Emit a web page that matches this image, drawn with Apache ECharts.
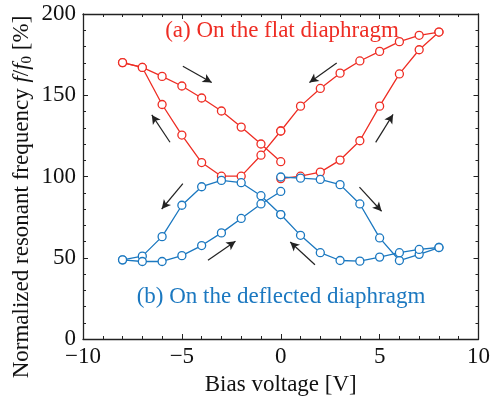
<!DOCTYPE html>
<html>
<head>
<meta charset="utf-8">
<script src="https://cdn.jsdelivr.net/npm/echarts@6/dist/echarts.min.js"></script>
<style>
  html, body { margin: 0; padding: 0; background: #fff; }
  #chart { width: 493px; height: 401px; }
</style>
</head>
<body>
<div id="chart"></div>
<script>
// bias voltages for each sweep branch
const voltsPos = [0, 1, 2, 3, 4, 5, 6, 7, 8];
const voltsNeg = [0, -1, -2, -3, -4, -5, -6, -7, -8];

// (a) flat diaphragm, red
const redRightUp = [98.7, 100.2, 102.7, 110.1, 122, 143.3, 163.1, 178, 188.9];
const redRightDown = [128, 143.3, 154.2, 163.6, 171.1, 177, 183, 186.9, 188.9];
const redLeftDown = [128, 113.1, 100.2, 100.2, 108.6, 125.5, 144.3, 167.1, 170.1];
const redLeftUp = [109.1, 120, 130.4, 140.3, 148.3, 155.7, 161.6, 167.1, 170.1];

// (b) deflected diaphragm, blue
const blueRightDown = [99.7, 99, 98.2, 95, 83.1, 62.2, 48.3, 52.1, 56.3];
const blueRightUp = [76.6, 63.8, 53.1, 48.3, 47.9, 50.4, 53.1, 55.1, 56.3];
const blueLeftDown = [76.6, 88.2, 96.2, 97.6, 93.7, 82.3, 63, 51, 48.7];
const blueLeftUp = [90.8, 83.1, 74.2, 65.3, 57.5, 51.3, 47.7, 47.7, 48.7];

// sweep direction arrows [x1, y1, x2, y2]
const arrows = [
  [-4.95, 167.9, -3.49, 157.9],
  [-5.6, 121.1, -6.52, 137.9],
  [-4.95, 95.6, -6.02, 80],
  [-3.68, 48.4, -2.29, 60.1],
  [2.83, 169.9, 1.45, 157.9],
  [4.8, 121, 5.68, 138.2],
  [3.98, 93.5, 5.1, 78.6],
  [1.73, 45.7, 0.48, 59.7]
];

const RED = '#ee2d24';
const BLUE = '#1b78c0';
const FONT = 'Liberation Serif';

function pairs(xs, ys) {
  return xs.map((x, i) => [x, ys[i]]);
}

function branch(xs, ys, color) {
  return {
    type: 'line',
    data: pairs(xs, ys),
    symbol: 'circle',
    symbolSize: 8,
    showAllSymbol: true,
    lineStyle: { color: color, width: 1.3 },
    itemStyle: { color: '#fff', borderColor: color, borderWidth: 1.3 },
    emphasis: { disabled: true },
    animation: false,
    z: 3
  };
}

let myChart = echarts.init(document.getElementById('chart'));

const axisCommon = {
  type: 'value',
  axisLine: { show: true, onZero: false, lineStyle: { color: '#222', width: 1.3 } },
  axisTick: { show: true, inside: true, length: 5, lineStyle: { color: '#222', width: 1 } },
  minorTick: { show: true, splitNumber: 5, length: 3, lineStyle: { color: '#222', width: 1 } },
  splitLine: { show: false },
  minorSplitLine: { show: false }
};

let series = [
  branch(voltsPos, redRightUp, RED),
  branch(voltsPos, redRightDown, RED),
  branch(voltsNeg, redLeftDown, RED),
  branch(voltsNeg, redLeftUp, RED),
  branch(voltsPos, blueRightDown, BLUE),
  branch(voltsPos, blueRightUp, BLUE),
  branch(voltsNeg, blueLeftDown, BLUE),
  branch(voltsNeg, blueLeftUp, BLUE)
];

// arrows as a markLine on an empty series
series.push({
  type: 'line',
  data: [],
  markLine: {
    silent: true,
    animation: false,
    symbol: ['none', 'arrow'],
    symbolSize: [7, 9],
    label: { show: false },
    lineStyle: { color: '#222', width: 1.2, type: 'solid' },
    data: arrows.map(a => [{ coord: [a[0], a[1]] }, { coord: [a[2], a[3]] }])
  }
});

let option = {
  backgroundColor: '#fff',
  animation: false,
  grid: { left: 83, right: 11, top: 14, bottom: 53 },
  xAxis: [
    Object.assign({}, axisCommon, {
      min: -10, max: 10, interval: 5,
      position: 'bottom',
      name: 'Bias voltage [V]',
      nameLocation: 'middle',
      nameGap: 34,
      nameTextStyle: { fontFamily: FONT, fontSize: 23, color: '#111' },
      axisLabel: {
        fontFamily: FONT, fontSize: 23, color: '#111', margin: 6,
        formatter: v => (v < 0 ? '\u2212' + Math.abs(v) : '' + v)
      }
    }),
    Object.assign({}, axisCommon, {
      min: -10, max: 10, interval: 5,
      position: 'top',
      axisLabel: { show: false }
    })
  ],
  yAxis: [
    Object.assign({}, axisCommon, {
      min: 0, max: 200, interval: 50,
      position: 'left',
      axisLabel: { fontFamily: FONT, fontSize: 23, color: '#111', margin: 7 }
    }),
    Object.assign({}, axisCommon, {
      min: 0, max: 200, interval: 50,
      position: 'right',
      axisLabel: { show: false }
    })
  ],
  graphic: [
    {
      type: 'text',
      x: 282, y: 31,
      style: {
        text: '(a) On the flat diaphragm',
        fill: RED, font: '23px "Liberation Serif"',
        align: 'center', verticalAlign: 'middle'
      }
    },
    {
      type: 'text',
      x: 281, y: 297,
      style: {
        text: '(b) On the deflected diaphragm',
        fill: BLUE, font: '23px "Liberation Serif"',
        align: 'center', verticalAlign: 'middle'
      }
    },
    {
      type: 'text',
      x: 22, y: 197,
      rotation: Math.PI / 2,
      style: {
        text: '{n|Normalized resonant frequency }{i|f}{n|/}{i|f}{s|0}{n| [%]}',
        align: 'center', verticalAlign: 'middle',
        fill: '#111',
        rich: {
          n: { fontFamily: FONT, fontSize: 23, color: '#111', lineHeight: 26 },
          i: { fontFamily: FONT, fontSize: 23, fontStyle: 'italic', color: '#111', lineHeight: 26 },
          s: { fontFamily: FONT, fontSize: 15, color: '#111', verticalAlign: 'bottom', lineHeight: 20 }
        }
      }
    }
  ],
  series: series
};

myChart.setOption(option);
</script>
</body>
</html>
